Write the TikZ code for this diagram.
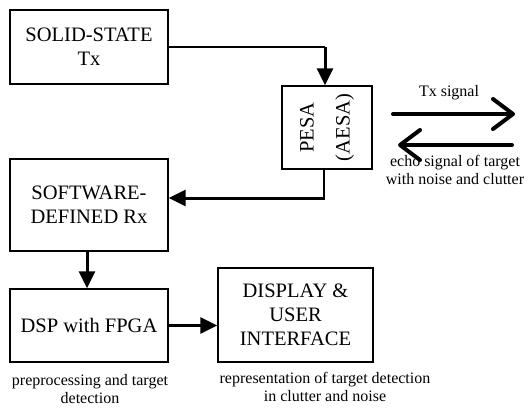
\documentclass[tikz,border=0pt]{standalone}
\usepackage{fontspec}
\setmainfont{Liberation Serif}
\usetikzlibrary{arrows.meta,calc}
\begin{document}
\begin{tikzpicture}[x=1pt,y=-1pt,
  blk/.style={draw,line width=1.4pt,inner sep=0pt,align=center,
    font=\fontsize{20.5}{24}\selectfont},
  captxt/.style={align=center,font=\fontsize{16}{18}\selectfont,inner sep=0pt},
  thinln/.style={line width=1.4pt},
  thickln/.style={line width=3pt,-{Triangle[length=17pt,width=16pt]}},
  sig/.style={line width=4pt,line cap=round,-{Straight Barb[length=20pt,width=30pt,round]}}]
\useasboundingbox (0,0) rectangle (528,408);
\node[blk,minimum width=158pt,minimum height=74pt] (sst) at (89,47) {SOLID-STATE\\Tx};
\node[blk,minimum width=90pt,minimum height=83pt] (pesa) at (327,127.5) {};
\node[align=center,inner sep=0pt,font=\fontsize{20.5}{24}\selectfont,rotate=90] (pesatxt) at (pesa.center) {PESA\\[12pt](AESA)};
\node[blk,minimum width=158pt,minimum height=92pt] (sdr) at (89,205) {SOFTWARE-\\DEFINED Rx};
\node[blk,minimum width=158pt,minimum height=73pt] (dsp) at (89,325.5) {DSP with FPGA};
\node[blk,minimum width=155pt,minimum height=94pt] (disp) at (295.5,315) {DISPLAY \&\\USER\\INTERFACE};

\coordinate (c1) at ($(sst.east -| pesa.north)+(-2,0)$);
\draw[thinln] (sst.east) -- (c1);
\draw[thickln] (c1) -- (c1 |- pesa.north);
\coordinate (c2) at ($(pesa.south |- 0,198)+(-3,0)$);
\draw[thinln] (c2 |- pesa.south) -- (c2);
\draw[thickln] ([xshift=0.7pt]c2) -- (c2 -| sdr.east);
\draw[thickln] ([xshift=-2pt]sdr.south) -- ([xshift=-2pt]dsp.north);
\draw[thickln] (dsp.east) -- (disp.west |- dsp.east);

\coordinate (t1) at (393,114);
\coordinate (t2) at (515,114);
\coordinate (e1) at (512,145);
\coordinate (e2) at (398,145);
\draw[sig] (t1) -- (t2);
\draw[sig] (e1) -- (e2);
\node[captxt] (txl) at (449,93) {Tx signal};
\node[captxt] (ecl) at (455,170) {echo signal of target\\with noise and clutter};
\node[captxt] (ppl) at (90,389) {preprocessing and target\\detection};
\node[captxt] (rpl) at (325,387) {representation of target detection\\in clutter and noise};
\end{tikzpicture}
\end{document}
